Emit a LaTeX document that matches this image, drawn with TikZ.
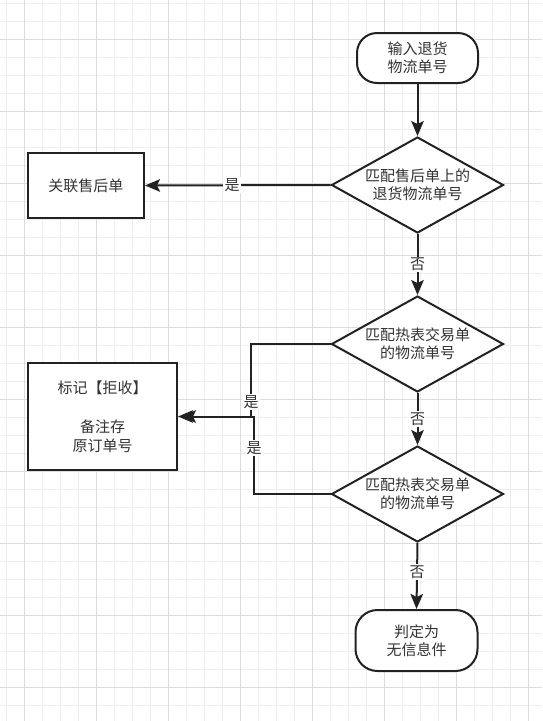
\documentclass[tikz,border=0pt]{standalone}
\usepackage{fontspec}
\setmainfont{Noto Sans CJK SC}
\usetikzlibrary{shapes.geometric,arrows.meta,calc}
\definecolor{ink}{HTML}{222222}
\definecolor{txt}{HTML}{333333}
\definecolor{gmin}{HTML}{EEEEEE}
\definecolor{gmaj}{HTML}{DCDCDC}
\begin{document}
\begin{tikzpicture}[x=1pt,y=-1pt,
  every node/.style={font=\fontsize{15}{18}\selectfont, text=txt},
  proc/.style={draw=ink, line width=2pt, fill=white, rectangle, inner sep=0pt, align=center},
  term/.style={draw=ink, line width=2pt, fill=white, rectangle, inner sep=0pt, align=center},
  decision/.style={draw=ink, line width=2pt, fill=white, diamond, aspect=1.8, inner sep=0pt,
    minimum width=172pt, minimum height=96pt, align=center},
  arr/.style={draw=ink, line width=2pt, -{Stealth[length=15pt,width=12.5pt,inset=3pt]}},
  lbl/.style={fill=white, inner sep=1.5pt}
]
\useasboundingbox (0,0) rectangle (542,721);
\fill[white] (0,0) rectangle (542,721);
% grid
\foreach \x in {6,24,...,540} \draw[gmin, line width=1pt] (\x,0) -- (\x,721);
\foreach \y in {3,21,...,720} \draw[gmin, line width=1pt] (0,\y) -- (542,\y);
\foreach \x in {24,96,...,540} \draw[gmaj, line width=1pt] (\x,0) -- (\x,721);
\foreach \y in {39,111,...,720} \draw[gmaj, line width=1pt] (0,\y) -- (542,\y);

% nodes
\node[term, rounded corners=20pt, minimum width=121pt, minimum height=50pt] (start) at (417.5,58) {输入退货\\物流单号};
\node[decision] (d1) at (417.5,185) {匹配售后单上的\\退货物流单号};
\node[decision] (d2) at (417.5,344) {匹配热表交易单\\的物流单号};
\node[decision] (d3) at (417.5,494) {匹配热表交易单\\的物流单号};
\node[term, rounded corners=22pt, minimum width=122pt, minimum height=61pt] (end) at (416.5,640.5) {判定为\\无信息件};
\node[proc, minimum width=116pt, minimum height=65pt] (b1) at (86,185.5) {关联售后单};
\node[proc, minimum width=149pt, minimum height=107pt, font=\fontsize{15}{19.5}\selectfont] (b2) at (102.5,416.5) {标记【拒收】\\[19.5pt]备注存\\原订单号};

\coordinate (j1) at (251,380);
\coordinate (j2) at (254,460);

% connectors
\draw[arr] (start) -- (d1);
\draw[arr] (d1.west) -- node[lbl, pos=0.53] {是} (b1.east);
\draw[arr] (d1.south) -- node[lbl] {否} (d2.north);
\draw[arr] (d2.south) -- node[lbl] {否} (d3.north);
\draw[arr] (d3.south) -- node[lbl, pos=0.44] {否} (end.north);
\draw[arr] (d2.west) -| (b2.east -| j1) -- (b2.east);
\draw[arr] (d3.west) -| (b2.east -| j2) -- ([xshift=3pt]b2.east);
\node[lbl] (l1) at (251,402) {是};
\node[lbl] (l2) at (254,448) {是};
\end{tikzpicture}
\end{document}
